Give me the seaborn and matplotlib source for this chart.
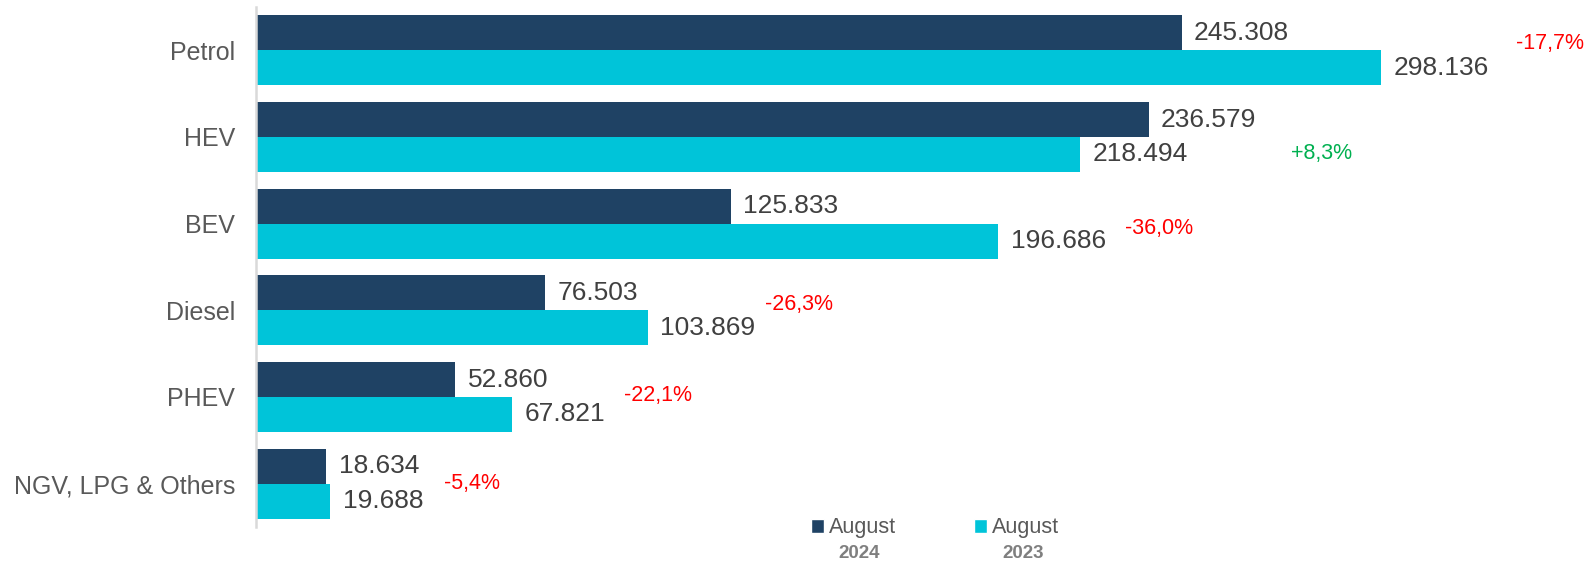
import pandas as pd
import seaborn as sns
import matplotlib.pyplot as plt
from matplotlib.patches import Patch

# data
fuels = ['Petrol', 'HEV', 'BEV', 'Diesel', 'PHEV', 'NGV, LPG & Others']
aug_2024 = [245308, 236579, 125833, 76503, 52860, 18634]
aug_2023 = [298136, 218494, 196686, 103869, 67821, 19688]
pct_labels = ['-17,7%', '+8,3%', '-36,0%', '-26,3%', '-22,1%', '-5,4%']
series_names = ['August 2024', 'August 2023']

# layout tweaks for the % labels (pixels right of longest bar, vertical shift)
pct_dx = [135, 142, 127, 117, 112, 114]
pct_dy = [-0.08, 0.19, 0.06, -0.07, -0.02, 0.0]

DARK = '#1F4264'
CYAN = '#00C4D9'
TXT = '#404040'

df = pd.DataFrame({
    'fuel': fuels * 2,
    'units': aug_2024 + aug_2023,
    'period': [series_names[0]] * len(fuels) + [series_names[1]] * len(fuels),
})

sns.set_style('white')
plt.rcParams['font.family'] = ['Liberation Sans', 'DejaVu Sans']

fig = plt.figure(figsize=(15.87, 5.61), dpi=100)
ax = fig.add_axes([256 / 1587, 1 - 527 / 561, 1320.5 / 1587, 520 / 561])

sns.barplot(data=df, y='fuel', x='units', hue='period', orient='h',
            palette=[DARK, CYAN], width=0.807, linewidth=0, saturation=1,
            ax=ax, legend=False)

ax.set_xlim(0, 350000)
ax.set_ylim(len(fuels) - 0.5, -0.5)
ax.set_xlabel('')
ax.set_ylabel('')
ax.set_xticks([])
ax.tick_params(axis='y', length=0, pad=15, labelsize=18, labelcolor='#595959')
for s in ['top', 'right', 'bottom']:
    ax.spines[s].set_visible(False)
ax.spines['left'].set_color('#D9D9D9')
ax.spines['left'].set_linewidth(1.8)

# value labels
for cont in ax.containers:
    ax.bar_label(cont, labels=[f'{int(w):,}'.replace(',', '.') for w in cont.datavalues],
                 padding=9, fontsize=19, color=TXT)

# change labels
for i, lab in enumerate(pct_labels):
    top = max(aug_2024[i], aug_2023[i])
    col = '#00B050' if lab.startswith('+') else '#FF0000'
    ax.annotate(lab, xy=(top, i + pct_dy[i]), xytext=(pct_dx[i] * 0.72, 0),
                textcoords='offset points', ha='left', va='center',
                fontsize=15.5, color=col)

# legend with bold year underneath
handles = [Patch(facecolor=DARK), Patch(facecolor=CYAN)]
fig.legend(handles, ['August', 'August'], loc='center', ncol=2,
           bbox_to_anchor=(935 / 1587, 1 - 528 / 561), frameon=False,
           fontsize=15.5, labelcolor='#595959', handlelength=0.6,
           handleheight=0.6, handletextpad=0.25, columnspacing=3.6,
           borderpad=0, borderaxespad=0)
fig.text(859 / 1587, 1 - 553 / 561, '2024', ha='center', va='center',
         fontsize=13.5, fontweight='bold', color='#7F7F7F')
fig.text(1023 / 1587, 1 - 553 / 561, '2023', ha='center', va='center',
         fontsize=13.5, fontweight='bold', color='#7F7F7F')

fig.savefig('out.png', dpi=100)
